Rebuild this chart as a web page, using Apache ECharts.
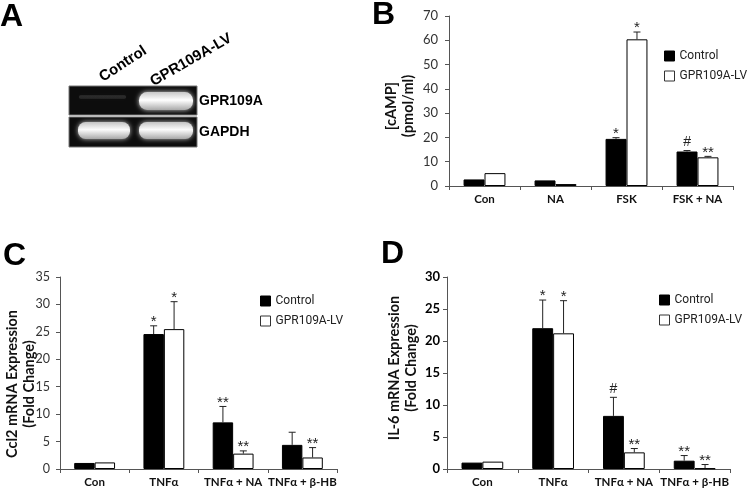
<!DOCTYPE html>
<html><head><meta charset="utf-8">
<script src="https://cdn.jsdelivr.net/npm/echarts@6/dist/echarts.min.js"></script>
<style>html,body{margin:0;padding:0;background:#fff}#c{width:747px;height:488px}</style>
</head><body><div id="c"></div>
<script>
// ---- Panel B data ----
const catB = ['Con', 'NA', 'FSK', 'FSK + NA'];
const ctrlB = [2.7, 2.3, 19.4, 14.2];
const gprB = [5.3, 0.8, 60.4, 11.8];
const ctrlBErr = [0, 0, 0.5, 0.4];
const gprBErr = [0, 0, 3.0, 0.4];
const sigCtrlB = ['', '', '*', '#'];
const sigGprB = ['', '', '*', '**'];
const ticksB = {min: 0, max: 70, interval: 10};
const titleB = '[cAMP]\n(pmol/ml)';

// ---- Panel C data ----
const catC = ['Con', 'TNFα', 'TNFα + NA', 'TNFα + β-HB'];
const ctrlC = [1.1, 24.6, 8.5, 4.4];
const gprC = [1.2, 25.5, 2.8, 2.1];
const ctrlCErr = [0, 1.5, 2.9, 2.3];
const gprCErr = [0, 5.0, 0.5, 1.8];
const sigCtrlC = ['', '*', '**', ''];
const sigGprC = ['', '*', '**', '**'];
const ticksC = {min: 0, max: 35, interval: 5};
const titleC = 'Ccl2 mRNA Expression\n(Fold Change)';

// ---- Panel D data ----
const catD = ['Con', 'TNFα', 'TNFα + NA', 'TNFα + β-HB'];
const ctrlD = [1.0, 22.0, 8.3, 1.3];
const gprD = [1.15, 21.2, 2.6, 0.1];
const ctrlDErr = [0, 4.4, 2.9, 0.8];
const gprDErr = [0, 5.1, 0.6, 0.6];
const sigCtrlD = ['', '*', '#', '**'];
const sigGprD = ['', '*', '**', '**'];
const ticksD = {min: 0, max: 30, interval: 5};
const titleD = 'IL-6 mRNA Expression\n(Fold Change)';

const seriesNames = ['Control', 'GPR109A-LV'];
const gelLanes = ['Control', 'GPR109A-LV'];
const gelRows = ['GPR109A', 'GAPDH'];

const FONT = 'Lato, "Open Sans", sans-serif';
const BOLDF = '"Liberation Sans", Arial, sans-serif';
const GAP = 0.41;
const HALF = (1 - GAP) / 4; // offset of bar centre from category centre (fraction of band)

function errSeries(idx, vals, errs, sigs, side, name) {
  return {
    type: 'custom', name: name, xAxisIndex: idx, yAxisIndex: idx, z: 5,
    data: vals.map((v, i) => [i, v, errs[i]]),
    renderItem: function (params, api) {
      const ci = api.value(0), v = api.value(1), e = api.value(2);
      const band = api.size([1, 0])[0];
      const x = api.coord([ci, 0])[0] + side * band * HALF;
      const yTop = api.coord([ci, v])[1];
      const yErr = api.coord([ci, v + e])[1];
      const ch = [];
      const st = {stroke: '#222', lineWidth: 1};
      if (e > 0) {
        ch.push({type: 'line', shape: {x1: x, y1: yTop, x2: x, y2: yErr}, style: st});
        ch.push({type: 'line', shape: {x1: x - 3.5, y1: yErr, x2: x + 3.5, y2: yErr}, style: st});
      }
      const s = sigs[params.dataIndex];
      if (s) {
        const isHash = s.indexOf('#') >= 0;
        ch.push({type: 'text', x: x, y: yErr - (isHash ? 8 : 4),
          style: {text: s, align: 'center', verticalAlign: 'middle',
                  font: (isHash ? '14px ' : '15px ') + BOLDF, fill: '#222'}});
      }
      return {type: 'group', children: ch};
    }
  };
}

function barPair(idx, ctrl, gpr) {
  return [
    {type: 'bar', name: seriesNames[0], xAxisIndex: idx, yAxisIndex: idx, data: ctrl,
     barCategoryGap: (GAP * 100) + '%', barGap: '0%', itemStyle: {color: '#000', borderColor: '#000', borderWidth: 1}},
    {type: 'bar', name: seriesNames[1], xAxisIndex: idx, yAxisIndex: idx, data: gpr,
     barCategoryGap: (GAP * 100) + '%', barGap: '0%', itemStyle: {color: '#fff', borderColor: '#000', borderWidth: 1}}
  ];
}

function xAx(idx, cats) {
  return {type: 'category', gridIndex: idx, data: cats,
    axisLine: {lineStyle: {color: '#555', width: 1}},
    axisTick: {show: true, length: 4, lineStyle: {color: '#555'}},
    axisLabel: {interval: 0, fontFamily: FONT, fontWeight: 'bold', fontSize: 11.5, color: '#111', margin: 7}};
}
function yAx(idx, t, boldNums, lblMargin, fs) {
  return {type: 'value', gridIndex: idx, min: t.min, max: t.max, interval: t.interval,
    axisLine: {show: true, lineStyle: {color: '#555', width: 1}},
    axisTick: {show: true, length: 4, lineStyle: {color: '#555'}},
    splitLine: {show: false},
    axisLabel: {fontFamily: FONT, fontSize: fs, color: boldNums ? '#000' : '#333', fontWeight: boldNums ? 'bold' : 'normal', margin: lblMargin}};
}
function leg(left, top) {
  return {left: left, top: top, orient: 'vertical', icon: 'rect', itemWidth: 10, itemHeight: 10, itemGap: 8,
    selectedMode: false,
    textStyle: {fontFamily: 'Roboto, sans-serif', fontSize: 12, color: '#222'},
    data: [{name: seriesNames[0], itemStyle: {color: '#000', borderColor: '#000', borderWidth: 1}},
           {name: seriesNames[1], itemStyle: {color: '#fff', borderColor: '#333', borderWidth: 1}}]};
}

function band(x, y, w, h, bright) {
  return {type: 'rect', shape: {x: x, y: y, width: w, height: h, r: h / 2.2},
    style: {fill: {type: 'linear', x: 0, y: 0, x2: 0, y2: 1, colorStops: [
      {offset: 0, color: 'rgba(200,200,200,' + bright + ')'},
      {offset: 0.45, color: 'rgba(255,255,255,' + bright + ')'},
      {offset: 1, color: 'rgba(170,170,170,' + bright + ')'}]},
      shadowBlur: 5, shadowColor: 'rgba(255,255,255,' + (bright * 0.8) + ')'}};
}
function yTitle(text, x, y) {
  return {type: 'text', x: x, y: y, rotation: Math.PI / 2,
    style: {text: text, font: 'bold 14.5px ' + FONT, lineHeight: 17, fill: '#111', align: 'center', verticalAlign: 'middle'}};
}

const letters = [
  {t: 'A', x: 0, y: 1}, {t: 'B', x: 372, y: -1}, {t: 'C', x: 3, y: 240}, {t: 'D', x: 381, y: 238}
];

const graphic = [];
letters.forEach(l => graphic.push({type: 'text', left: l.x, top: l.y,
  style: {text: l.t, font: 'bold 32px ' + BOLDF, fill: '#000'}}));
graphic.push(yTitle(titleB, 400, 106));
graphic.push(yTitle(titleC, 21, 384));
graphic.push(yTitle(titleD, 403, 368));
// gel boxes
graphic.push({type: 'rect', shape: {x: 69, y: 86, width: 128, height: 29}, style: {fill: '#0d0d0d', stroke: '#777', lineWidth: 1}});
graphic.push({type: 'rect', shape: {x: 69, y: 117, width: 128, height: 30}, style: {fill: '#0d0d0d', stroke: '#777', lineWidth: 1}});
graphic.push(band(79, 95, 47, 4, 0.12));
graphic.push(band(139, 92, 54, 18, 1));
graphic.push(band(78, 122, 52, 17, 0.95));
graphic.push(band(139, 122, 54, 17, 0.95));
graphic.push({type: 'text', x: 123, y: 64, rotation: 0.58,
  style: {text: gelLanes[0], font: 'bold 15px ' + BOLDF, fill: '#000', align: 'center', verticalAlign: 'middle'}});
graphic.push({type: 'text', x: 191, y: 60, rotation: 0.52,
  style: {text: gelLanes[1], font: 'bold 15px ' + BOLDF, fill: '#000', align: 'center', verticalAlign: 'middle'}});
graphic.push({type: 'text', x: 199, y: 101, style: {text: gelRows[0], font: 'bold 14px ' + BOLDF, fill: '#000', verticalAlign: 'middle'}});
graphic.push({type: 'text', x: 199, y: 132, style: {text: gelRows[1], font: 'bold 14px ' + BOLDF, fill: '#000', verticalAlign: 'middle'}});

const option = {
  animation: false,
  backgroundColor: '#fff',
  grid: [
    {left: 449, right: 14, top: 16, bottom: 302},
    {left: 60, right: 410, top: 277, bottom: 17},
    {left: 447, right: 17, top: 277, bottom: 19}
  ],
  xAxis: [xAx(0, catB), xAx(1, catC), xAx(2, catD)],
  yAxis: [yAx(0, ticksB, false, 11, 13), yAx(1, ticksC, false, 10, 12.5), yAx(2, ticksD, true, 7, 13)],
  legend: [leg(659, 45), leg(255, 290), leg(654, 289)],
  series: [].concat(
    barPair(0, ctrlB, gprB),
    [errSeries(0, ctrlB, ctrlBErr, sigCtrlB, -1, 'errB1'), errSeries(0, gprB, gprBErr, sigGprB, 1, 'errB2')],
    barPair(1, ctrlC, gprC),
    [errSeries(1, ctrlC, ctrlCErr, sigCtrlC, -1, 'errC1'), errSeries(1, gprC, gprCErr, sigGprC, 1, 'errC2')],
    barPair(2, ctrlD, gprD),
    [errSeries(2, ctrlD, ctrlDErr, sigCtrlD, -1, 'errD1'), errSeries(2, gprD, gprDErr, sigGprD, 1, 'errD2')]
  ),
  graphic: graphic
};
const chart = echarts.init(document.getElementById('c'), null, {renderer: 'canvas'});
chart.setOption(option);
</script></body></html>
